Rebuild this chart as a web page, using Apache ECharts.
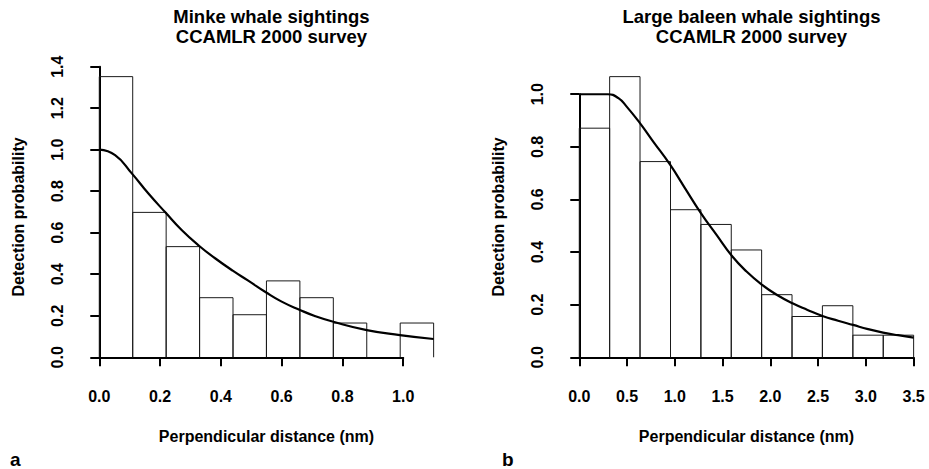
<!DOCTYPE html>
<html>
<head>
<meta charset="utf-8">
<script src="https://cdn.jsdelivr.net/npm/echarts@6/dist/echarts.min.js"></script>
<style>
  html, body { margin: 0; padding: 0; background: #fff; }
  #chart { width: 929px; height: 469px; }
</style>
</head>
<body>
<div id="chart"></div>
<script>
// panel a: minke whale histogram (bin breaks + heights) and fitted detection curve
const minkeBreaks = [0, 0.11, 0.22, 0.33, 0.44, 0.55, 0.66, 0.77, 0.88, 0.99, 1.1];
const minkeHeights = [1.352, 0.698, 0.533, 0.287, 0.205, 0.368, 0.287, 0.165, 0, 0.165];
const minkeCurve = [
  [0, 1.0], [0.052, 0.974], [0.107, 0.886], [0.161, 0.79], [0.218, 0.697],
  [0.271, 0.613], [0.329, 0.536], [0.381, 0.477], [0.439, 0.417], [0.49, 0.369],
  [0.548, 0.313], [0.6, 0.268], [0.66, 0.228], [0.709, 0.199], [0.77, 0.171],
  [0.88, 0.131], [0.989, 0.107], [1.1, 0.088]
];
const minkeXTicks = [0, 0.2, 0.4, 0.6, 0.8, 1.0];
const minkeYTicks = [0, 0.2, 0.4, 0.6, 0.8, 1.0, 1.2, 1.4];

// panel b: large baleen whales
const baleenBreaks = [0, 0.318, 0.636, 0.955, 1.273, 1.591, 1.909, 2.227, 2.545, 2.864, 3.182, 3.5];
const baleenHeights = [0.871, 1.067, 0.744, 0.561, 0.505, 0.408, 0.238, 0.155, 0.196, 0.084, 0.084];
const baleenCurve = [
  [0, 1.0], [0.3, 1.0], [0.41, 0.985], [0.496, 0.953], [0.635, 0.89], [0.774, 0.82],
  [0.949, 0.733], [1.106, 0.643], [1.273, 0.548], [1.437, 0.465], [1.594, 0.387],
  [1.751, 0.326], [1.915, 0.275], [2.071, 0.237], [2.232, 0.205], [2.389, 0.18],
  [2.546, 0.157], [2.709, 0.139], [2.866, 0.123], [3.023, 0.107], [3.18, 0.094],
  [3.337, 0.084], [3.5, 0.075]
];
const baleenXTicks = [0, 0.5, 1.0, 1.5, 2.0, 2.5, 3.0, 3.5];
const baleenYTicks = [0, 0.2, 0.4, 0.6, 0.8, 1.0];

const FONT = '"Liberation Sans", Arial, Helvetica, sans-serif';
const PLOT_TOP = 65.4, PLOT_W = 361.1, PLOT_H = 303.1;
const PAD = 0.04; // R style 4% axis extension

const panels = [
  {
    left: 85.9, title: 'Minke whale sightings\nCCAMLR 2000 survey', tag: 'a', tagLeft: 5,
    breaks: minkeBreaks, heights: minkeHeights, curve: minkeCurve,
    xTicks: minkeXTicks, yTicks: minkeYTicks
  },
  {
    left: 565.9, title: 'Large baleen whale sightings\nCCAMLR 2000 survey', tag: 'b', tagLeft: 497,
    breaks: baleenBreaks, heights: baleenHeights, curve: baleenCurve,
    xTicks: baleenXTicks, yTicks: baleenYTicks
  }
];

const grid = [], xAxis = [], yAxis = [], series = [], title = [];

panels.forEach((p, i) => {
  const xMax = p.breaks[p.breaks.length - 1];
  const yMax = Math.max(...p.heights);
  const xPad = xMax * PAD, yPad = yMax * PAD;
  const pxX = PLOT_W / (xMax + 2 * xPad);
  const pxY = PLOT_H / (yMax + 2 * yPad);
  const xTickMax = p.xTicks[p.xTicks.length - 1];
  const yTickMax = p.yTicks[p.yTicks.length - 1];
  const xStep = p.xTicks[1] - p.xTicks[0];
  const yStep = p.yTicks[1] - p.yTicks[0];
  const bottom = PLOT_TOP + PLOT_H;
  const offX = xPad * pxX, offY = yPad * pxY;

  // data grid = R plot region (axes hidden, only names shown)
  grid.push({ left: p.left, top: PLOT_TOP, width: PLOT_W, height: PLOT_H });
  // axis grid = span of tick marks, axes pushed outward like R
  grid.push({
    left: p.left + offX, top: bottom - offY - yTickMax * pxY,
    width: xTickMax * pxX, height: yTickMax * pxY
  });

  const nameStyle = { fontFamily: FONT, fontWeight: 'bold', fontSize: 16, color: '#000' };
  xAxis.push({
    gridIndex: 2 * i, type: 'value', min: -xPad, max: xMax + xPad,
    axisLine: { show: false }, axisTick: { show: false }, axisLabel: { show: false },
    splitLine: { show: false },
    name: 'Perpendicular distance (nm)', nameLocation: 'middle', nameGap: 60,
    nameTextStyle: nameStyle
  });
  yAxis.push({
    gridIndex: 2 * i, type: 'value', min: -yPad, max: yMax + yPad,
    axisLine: { show: false }, axisTick: { show: false }, axisLabel: { show: false },
    splitLine: { show: false },
    name: 'Detection probability', nameLocation: 'middle', nameGap: 59,
    nameTextStyle: nameStyle
  });

  const lineStyle = { color: '#000', width: 2 };
  const labelStyle = {
    fontFamily: FONT, fontWeight: 'bold', fontSize: 16, color: '#000', margin: 20,
    formatter: v => v.toFixed(1)
  };
  xAxis.push({
    gridIndex: 2 * i + 1, type: 'value', min: 0, max: xTickMax, interval: xStep,
    offset: offY,
    axisLine: { lineStyle }, axisTick: { length: 9, lineStyle },
    axisLabel: labelStyle, splitLine: { show: false }
  });
  yAxis.push({
    gridIndex: 2 * i + 1, type: 'value', min: 0, max: yTickMax, interval: yStep,
    offset: offX,
    axisLine: { show: true, lineStyle }, axisTick: { show: true, length: 9, lineStyle },
    axisLabel: Object.assign({ rotate: 90 }, labelStyle), splitLine: { show: false }
  });

  // histogram bars: left edge, top, right edge (no baseline, like the original)
  series.push({
    type: 'custom', xAxisIndex: 2 * i, yAxisIndex: 2 * i, silent: true,
    data: p.heights.map((h, k) => [p.breaks[k], p.breaks[k + 1], h]),
    renderItem: (params, api) => {
      const h = api.value(2);
      if (!h) return null;
      const x0 = api.value(0), x1 = api.value(1);
      return {
        type: 'polyline',
        shape: { points: [api.coord([x0, 0]), api.coord([x0, h]), api.coord([x1, h]), api.coord([x1, 0])] },
        style: { stroke: '#1a1a1a', lineWidth: 1, fill: null }
      };
    }
  });

  // fitted detection function
  series.push({
    type: 'line', xAxisIndex: 2 * i, yAxisIndex: 2 * i, silent: true,
    data: p.curve, smooth: 0.5, showSymbol: false,
    lineStyle: { color: '#000', width: 2.2 }, z: 5
  });

  title.push({
    text: p.title, left: p.left + PLOT_W / 2, top: 1, textAlign: 'center',
    textStyle: { fontFamily: FONT, fontWeight: 'bold', fontSize: 18.5, lineHeight: 20, color: '#000' }
  });
  title.push({
    text: p.tag, left: p.tagLeft, top: 444,
    textStyle: { fontFamily: FONT, fontWeight: 'bold', fontSize: 19, lineHeight: 20, color: '#000' }
  });
});

const chart = echarts.init(document.getElementById('chart'), null, { renderer: 'svg' });
chart.setOption({
  animation: false,
  backgroundColor: '#fff',
  title, grid, xAxis, yAxis, series
});
</script>
</body>
</html>
